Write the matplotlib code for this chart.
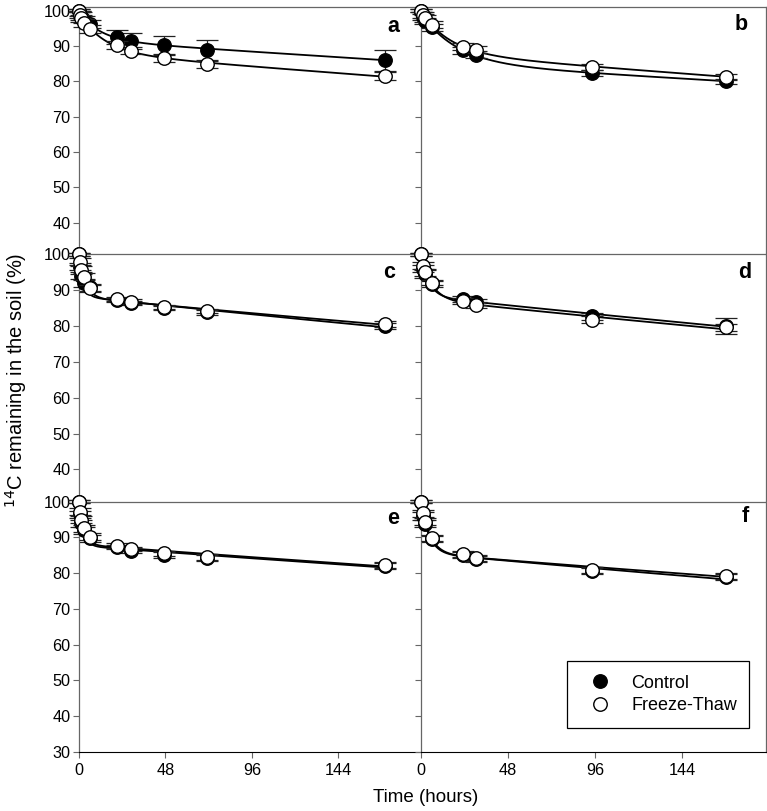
import numpy as np
import matplotlib
matplotlib.use("Agg")
import matplotlib.pyplot as plt

plt.rcParams['font.family'] = ['Liberation Sans', 'DejaVu Sans']

# ---------------- data ----------------
times_ace = [0, 0.5, 1, 2.5, 6, 21, 29, 47, 71, 170]
times_bdf = [0, 1, 2, 6, 23, 30, 94, 168]

ctrl_a = [100, 99.2, 98.5, 97.5, 96.2, 92.6, 91.5, 90.3, 88.9, 86.0]
ctrl_a_err = [0.5, 0.8, 1.0, 1.0, 1.2, 2.0, 2.3, 2.6, 2.8, 3.0]
ft_a = [100, 98.8, 97.8, 96.5, 94.8, 90.3, 88.7, 86.5, 84.9, 81.5]
ft_a_err = [0.5, 1.0, 1.0, 1.2, 1.2, 1.0, 1.0, 1.0, 1.0, 1.2]

ctrl_b = [100, 98.3, 97.0, 95.3, 88.8, 87.6, 82.3, 80.0]
ctrl_b_err = [0.5, 0.8, 0.9, 1.0, 1.0, 1.0, 0.8, 0.8]
ft_b = [100, 98.8, 97.8, 96.0, 89.8, 88.9, 84.0, 81.3]
ft_b_err = [0.5, 0.8, 0.9, 1.0, 1.0, 1.0, 0.8, 0.8]

ctrl_c = [100, 96.5, 94.0, 92.0, 90.8, 87.2, 86.5, 85.0, 83.8, 80.0]
ctrl_c_err = [0.5, 1.0, 1.0, 1.0, 1.0, 0.6, 0.6, 0.6, 0.6, 0.8]
ft_c = [100, 97.9, 95.6, 93.7, 90.5, 87.5, 86.8, 85.3, 84.1, 80.6]
ft_c_err = [0.5, 1.0, 1.0, 1.0, 1.0, 0.6, 0.6, 0.6, 0.6, 0.8]

ctrl_d = [100, 96.0, 94.5, 91.8, 87.5, 86.6, 82.7, 80.0]
ctrl_d_err = [0.5, 1.0, 1.0, 0.8, 0.8, 0.8, 1.0, 2.2]
ft_d = [100, 96.8, 95.0, 92.1, 87.0, 85.8, 81.8, 79.6]
ft_d_err = [0.5, 1.0, 1.0, 0.8, 0.8, 0.8, 1.0, 1.0]

ctrl_e = [100, 96.5, 94.0, 92.0, 89.8, 87.4, 86.3, 85.1, 84.3, 82.0]
ctrl_e_err = [0.5, 1.0, 1.0, 1.0, 1.0, 0.6, 0.6, 0.8, 0.8, 0.8]
ft_e = [100, 97.2, 94.9, 92.5, 90.2, 87.7, 86.8, 85.5, 84.6, 82.3]
ft_e_err = [0.5, 1.0, 1.0, 1.0, 1.0, 0.6, 0.6, 0.8, 0.8, 0.8]

ctrl_f = [100, 96.0, 93.8, 89.5, 85.0, 84.0, 80.6, 78.9]
ctrl_f_err = [0.5, 1.0, 1.0, 0.8, 0.8, 0.8, 0.8, 0.8]
ft_f = [100, 96.7, 94.4, 89.9, 85.3, 84.3, 80.9, 79.2]
ft_f_err = [0.5, 1.0, 1.0, 0.8, 0.8, 0.8, 0.8, 0.8]

panel_letters = ['a', 'b', 'c', 'd', 'e', 'f']
xticks = [0, 48, 96, 144]
legend_labels = ['Control', 'Freeze-Thaw']


def fit_biexp(t, y):
    """Least-squares double exponential fit (grid over rates)."""
    t = np.asarray(t, float)
    y = np.asarray(y, float)
    best = None
    for k1 in np.logspace(-1.5, 1.0, 60):
        for k2 in np.logspace(-5, -2, 60):
            X = np.column_stack([np.exp(-k1 * t), np.exp(-k2 * t)])
            coef, *_ = np.linalg.lstsq(X, y, rcond=None)
            sse = np.sum((X @ coef - y) ** 2)
            if best is None or sse < best[0]:
                best = (sse, k1, k2, coef)
    _, k1, k2, coef = best
    return lambda tt: coef[0] * np.exp(-k1 * tt) + coef[1] * np.exp(-k2 * tt)


W, H = 767, 811
fig = plt.figure(figsize=(W / 100, H / 100), dpi=100)

rows = [(7.2, 254.3, (31, 101)), (254.3, 501.7, (31, 100)), (501.7, 751.7, (30, 100))]
cols = [(79, 421.2), (421.2, 765.6)]

panels = [
    (times_ace, ctrl_a, ctrl_a_err, ft_a, ft_a_err),
    (times_bdf, ctrl_b, ctrl_b_err, ft_b, ft_b_err),
    (times_ace, ctrl_c, ctrl_c_err, ft_c, ft_c_err),
    (times_bdf, ctrl_d, ctrl_d_err, ft_d, ft_d_err),
    (times_ace, ctrl_e, ctrl_e_err, ft_e, ft_e_err),
    (times_bdf, ctrl_f, ctrl_f_err, ft_f, ft_f_err),
]
letter_pos = [(393, 26), (741, 25), (389, 273), (745, 272), (393, 518), (745, 517)]

spine_col = '0.4'
TICK_FS = 11.7
axes = []
for i, (t, c, ce, f, fe) in enumerate(panels):
    r, col = divmod(i, 2)
    y0, y1, ylim = rows[r]
    x0, x1 = cols[col]
    ax = fig.add_axes([x0 / W, 1 - y1 / H, (x1 - x0) / W, (y1 - y0) / H])
    ax.set_facecolor('none')
    ax.set_xlim(0, 190)
    ax.set_ylim(*ylim)
    tt = np.linspace(0, max(t), 500)
    for vals, errs, face, z in [(c, ce, 'black', 3), (f, fe, 'white', 4)]:
        model = fit_biexp(t, vals)
        ax.plot(tt, model(tt), color='black', lw=1.3, zorder=2, clip_on=False)
        ax.errorbar(t, vals, yerr=errs, fmt='none', ecolor='#222222', elinewidth=0.9,
                    capsize=8, capthick=0.9, zorder=z - 0.5, clip_on=False)
        ax.plot(t, vals, 'o', ms=9.7, mfc=face, mec='black', mew=1.0, zorder=z,
                clip_on=False, linestyle='none')
    if r < 2:
        ax.set_yticks(range(40, 101, 10))
    else:
        ax.set_yticks(range(30, 101, 10))
    ax.tick_params(axis='y', direction='out', length=4, width=0.8, color=spine_col,
                   labelsize=TICK_FS, pad=2)
    if col == 1:
        ax.tick_params(axis='y', labelleft=False)
    if r == 2:
        ax.set_xticks(xticks)
        ax.tick_params(axis='x', direction='out', length=4, width=0.8, color=spine_col,
                       labelsize=TICK_FS, pad=4)
        ax.spines['bottom'].set_color('black')
    else:
        ax.set_xticks([])
        ax.spines['bottom'].set_visible(False)
    for s in ['left', 'top', 'right']:
        ax.spines[s].set_color(spine_col)
        ax.spines[s].set_linewidth(0.9)
    if col == 0:
        ax.spines['right'].set_visible(False)
    lx, ly = letter_pos[i]
    fig.text(lx / W, 1 - ly / H, panel_letters[i], fontsize=15.5, fontweight='bold',
             ha='center', va='center')
    axes.append(ax)

# legend
h_ctrl = plt.Line2D([], [], marker='o', ls='none', ms=9.7, mfc='black', mec='black')
h_ft = plt.Line2D([], [], marker='o', ls='none', ms=9.7, mfc='white', mec='black')
leg = fig.legend([h_ctrl, h_ft], legend_labels,
                 loc='upper left', bbox_to_anchor=(567 / W, 1 - 730 / H, 182 / W, 69 / H),
                 mode='expand', borderaxespad=0, fontsize=13, frameon=True, fancybox=False,
                 edgecolor='black', framealpha=1, borderpad=0.75, labelspacing=0.3,
                 handletextpad=0.7, handlelength=2.1)
leg.get_frame().set_linewidth(0.9)

fig.text(426 / W, 1 - 798 / H, 'Time (hours)', fontsize=13.5, ha='center', va='center')
fig.text(16 / W, 1 - 380 / H, '$^{14}$C remaining in the soil (%)', fontsize=14.5,
         rotation=90, ha='center', va='center')

fig.savefig('out.png', dpi=100)
